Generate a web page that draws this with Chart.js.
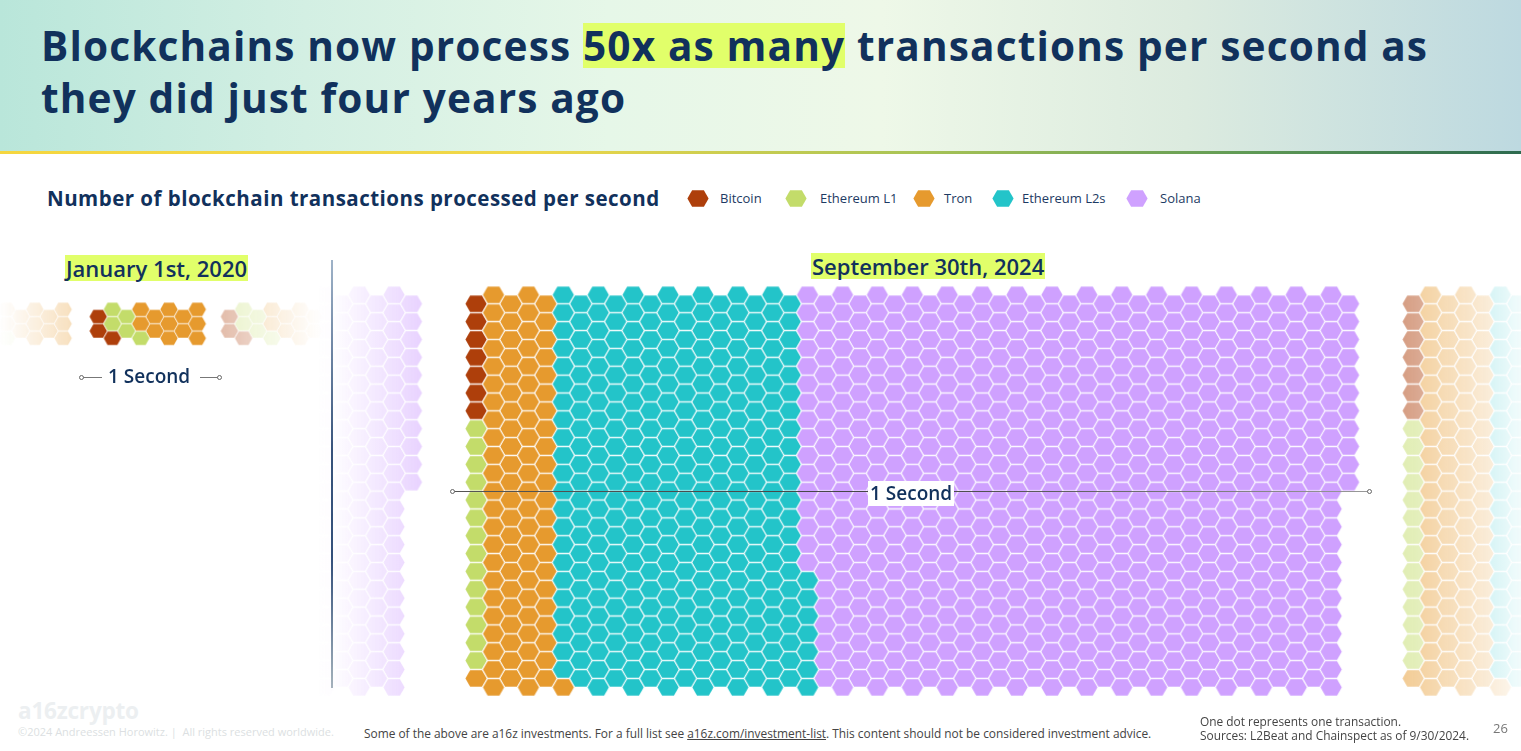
<!DOCTYPE html>
<html>
<head>
<meta charset="utf-8">
<title>Blockchain transactions per second</title>
<script src="https://cdn.jsdelivr.net/npm/chart.js@4"></script>
<style>
    html, body { margin: 0; padding: 0; background: #fff; }
    body { width: 1521px; height: 751px; position: relative; overflow: hidden; font-family: 'Open Sans', sans-serif; color: #11315c; }
    .abs { position: absolute; white-space: nowrap; }
    canvas { position: absolute; }
    #banner { position: absolute; left: 0; top: 0; width: 1521px; height: 151px;
        background: linear-gradient(90deg, #b9e6da 0%, #d3efe3 20%, #e6f7e8 40%, #eef8e8 58%, #dcebdf 78%, #bdd9e0 100%); }
    #rule { position: absolute; left: 0; top: 151px; width: 1521px; height: 3px;
        background: linear-gradient(90deg, #f5d63f 0%, #efd749 35%, #a9c455 60%, #5f9a55 82%, #2d6a4f 100%); }
    .headline { left: 41px; font-size: 40.6px; font-weight: 700; letter-spacing: 1.14px; line-height: 52px; }
    .mark { background: #e1ff6a; display: inline-block; line-height: 45px; }
    #subtitle { left: 47px; top: 184px; font-size: 20.5px; font-weight: 700; letter-spacing: 0.48px; }
    .legend-label { top: 189px; font-size: 13px; color: #1d3a63; }
    .date { font-size: 22px; font-weight: 600; background: #e1ff6a; line-height: 26px; padding: 0 1px; }
    .second { font-size: 19px; font-weight: 600; }
    .tick-line { position: absolute; height: 1px; background: #777; }
    .tick-end { position: absolute; width: 3px; height: 3px; border: 1px solid #666; border-radius: 50%; background: #fff; }
    #divider { position: absolute; left: 331px; top: 260px; width: 2px; height: 428px;
        background: linear-gradient(180deg, #9fb3c8 0%, #36527a 45%, #33507a 70%, #a5b3bc 100%); }
    .foot { font-size: 11.9px; color: #444; }
</style>
</head>
<body>
<div id="banner"></div>
<div id="rule"></div>
<div class="abs headline" style="top:20px">Blockchains now process <span class="mark">50x as many</span> transactions per second as</div>
<div class="abs headline" style="top:72px">they did just four years ago</div>

<div class="abs" id="subtitle">Number of blockchain transactions processed per second</div>
<div id="legend"></div>

<div class="abs date" style="left:65px;top:255px">January 1st, 2020</div>
<div class="abs date" style="left:811px;top:253px">September 30th, 2024</div>
<div id="divider"></div>

<canvas id="chart2024" width="1239" height="446" style="left:319px;top:277px"></canvas>
<canvas id="chart2020" width="368" height="72" style="left:-15px;top:295px"></canvas>

<!-- 1 second brackets -->
<div class="tick-line" style="left:82px;top:377px;width:20px"></div>
<div class="tick-end" style="left:79px;top:375px"></div>
<div class="abs second" style="left:108px;top:363px">1 Second</div>
<div class="tick-line" style="left:200px;top:377px;width:19px"></div>
<div class="tick-end" style="left:217px;top:375px"></div>

<div class="tick-line" style="left:453px;top:491px;width:915px;background:linear-gradient(90deg,#555,#444 50%,#999)"></div>
<div class="tick-end" style="left:450px;top:489px"></div>
<div class="tick-end" style="left:1367px;top:489px"></div>
<div class="abs second" style="left:868px;top:481px;background:#fff;padding:0 2px;line-height:25px">1 Second</div>

<!-- footer -->
<div class="abs" style="left:18px;top:695px;font-size:22.5px;font-weight:700;color:#eceff1;letter-spacing:-0.2px">a16zcrypto</div>
<div class="abs" style="left:18px;top:724px;font-size:11px;color:#dcdfe2">©2024 Andreessen Horowitz. | &nbsp;All rights reserved worldwide.</div>
<div class="abs foot" style="left:364px;top:725px">Some of the above are a16z investments. For a full list see <u>a16z.com/investment-list</u>. This content should not be considered investment advice.</div>
<div class="abs foot" style="left:1200px;top:713px">One dot represents one transaction.</div>
<div class="abs foot" style="left:1200px;top:727px">Sources: L2Beat and Chainspect as of 9/30/2024.</div>
<div class="abs" style="left:1493px;top:719px;font-size:13px;color:#777">26</div>

<script>
document.addEventListener('DOMContentLoaded', function () {
    const seriesColors = {
        'Bitcoin': '#ae3f0b',
        'Ethereum L1': '#c3dc6a',
        'Tron': '#e69a2e',
        'Ethereum L2s': '#23c4c9',
        'Solana': '#cfa1ff'
    };

    // One dot = one transaction
    const jan2020 = { 'Bitcoin': 3, 'Ethereum L1': 5, 'Tron': 12 };
    const sep2024 = { 'Bitcoin': 7, 'Ethereum L1': 14, 'Tron': 92, 'Ethereum L2s': 321, 'Solana': 702 };

    // Hexagon sprites, cached by colour and fade
    const spriteCache = {};
    function hexSprite(color, size, a0, a1) {
        const key = [color, size.w, a0.toFixed(2), a1.toFixed(2)].join('|');
        if (spriteCache[key]) return spriteCache[key];
        const c = document.createElement('canvas');
        c.width = Math.ceil(size.w * 2) + 2;
        c.height = Math.ceil(size.h * 2) + 2;
        const g = c.getContext('2d');
        const cx = c.width / 2, cy = c.height / 2;
        const r = parseInt(color.slice(1, 3), 16), gr = parseInt(color.slice(3, 5), 16), b = parseInt(color.slice(5, 7), 16);
        const grad = g.createLinearGradient(cx - size.w, 0, cx + size.w, 0);
        grad.addColorStop(0, `rgba(${r},${gr},${b},${a0})`);
        grad.addColorStop(1, `rgba(${r},${gr},${b},${a1})`);
        g.fillStyle = grad;
        g.beginPath();
        g.moveTo(cx - size.w, cy);
        g.lineTo(cx - size.f, cy - size.h);
        g.lineTo(cx + size.f, cy - size.h);
        g.lineTo(cx + size.w, cy);
        g.lineTo(cx + size.f, cy + size.h);
        g.lineTo(cx - size.f, cy + size.h);
        g.closePath();
        g.fill();
        spriteCache[key] = c;
        return c;
    }

    // Dots fill the columns as a snake: down, up, down... Odd columns hold one dot more.
    function layDots(counts, evenRows, oddRows) {
        const out = {};
        let col = 0, pos = 0;
        Object.keys(counts).forEach(name => {
            out[name] = [];
            for (let i = 0; i < counts[name]; i++) {
                const rows = col % 2 ? oddRows : evenRows;
                const row = col % 2 ? rows - 1 - pos : pos;
                out[name].push({ x: col, y: col % 2 ? row : row + 0.5 });
                pos++;
                if (pos === rows) { pos = 0; col++; }
            }
        });
        return out;
    }

    function drawPanel(canvasId, counts, evenRows, oddRows, size, xRange, yRange, ghosts) {
        const cells = layDots(counts, evenRows, oddRows);
        const datasets = Object.keys(cells).map(name => {
            const data = cells[name].map(p => ({ x: p.x, y: p.y, a0: 1, a1: 1 }));
            // Neighbouring seconds are repeated and faded out on both sides
            ghosts.forEach(ghost => {
                cells[name].forEach(p => {
                    const x = p.x + ghost.shift;
                    if (x < ghost.from || x > ghost.to) return;
                    data.push({ x: x, y: p.y, a0: ghost.fade(x - 0.6), a1: ghost.fade(x + 0.6) });
                });
            });
            return {
                label: name,
                data: data,
                clip: false,
                showLine: false,
                pointRadius: 10,
                pointHoverRadius: 10,
                pointBorderWidth: 0,
                pointStyle: ctx => hexSprite(seriesColors[name], size, Math.max(0, ctx.raw.a0), Math.max(0, ctx.raw.a1))
            };
        });
        return new Chart(document.getElementById(canvasId), {
            type: 'scatter',
            data: { datasets: datasets },
            options: {
                responsive: false,
                animation: false,
                events: [],
                layout: { padding: 0, autoPadding: false },
                plugins: { legend: { display: false }, tooltip: { enabled: false } },
                scales: {
                    x: { type: 'linear', display: false, min: xRange[0], max: xRange[1] },
                    y: { type: 'linear', display: false, reverse: true, min: yRange[0], max: yRange[1] }
                }
            }
        });
    }

    const chart2024 = drawPanel('chart2024', sep2024, 22, 23,
        { w: 10.6, f: 5.9, h: 8.3 }, [-9, 62], [-1, 24], [
            { shift: -53.7, from: -9, to: 0, fade: x => 0.42 * (x + 8.4) / 4.7 },
            { shift: 53.7, from: 50, to: 62, fade: x => 0.47 * (60.85 - x) / 7.15 }
        ]);

    drawPanel('chart2020', jan2020, 2, 3,
        { w: 8.7, f: 4.9, h: 6.8 }, [-8, 18], [-1, 4], [
            { shift: -9.48, from: -8, to: 0, fade: x => 0.27 * (x + 6.8) / 4.3 },
            { shift: 9.27, from: 8, to: 18, fade: x => 0.32 * (15.6 - x) / 6.33 }
        ]);

    // Legend built from the chart's datasets
    const legendSlots = { 'Bitcoin': [687, 720], 'Ethereum L1': [785, 820], 'Tron': [913, 944], 'Ethereum L2s': [992, 1022], 'Solana': [1126, 1160] };
    const legend = document.getElementById('legend');
    chart2024.data.datasets.forEach(ds => {
        const slot = legendSlots[ds.label];
        const icon = hexSprite(seriesColors[ds.label], { w: 10.6, f: 5.9, h: 8.3 }, 1, 1);
        const copy = document.createElement('canvas');
        copy.width = icon.width;
        copy.height = icon.height;
        copy.getContext('2d').drawImage(icon, 0, 0);
        copy.style.left = slot[0] - 1 + 'px';
        copy.style.top = '189px';
        legend.appendChild(copy);

        const label = document.createElement('div');
        label.className = 'abs legend-label';
        label.style.left = slot[1] + 'px';
        label.textContent = ds.label;
        legend.appendChild(label);
    });
});
</script>
</body>
</html>
